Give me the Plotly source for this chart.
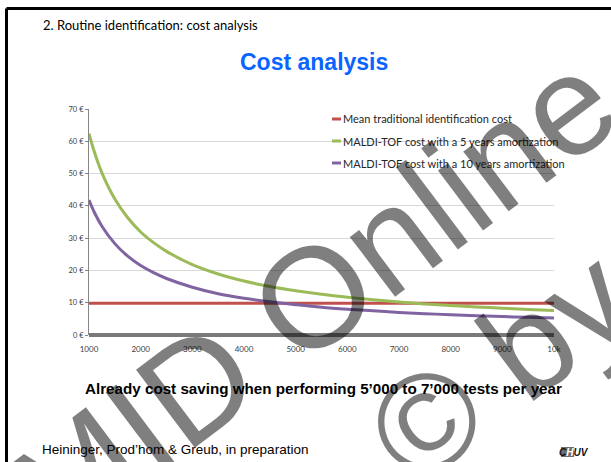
import plotly.graph_objects as go

# Canvas and plot-area geometry (pixels)
W, H = 611, 462
L, R, T, B = 89, 57, 109, 127

# Annual number of identifications
tests = [1000, 1100, 1250, 1500, 1750, 2000, 2250, 2500, 3000, 3500, 4000, 4500,
         5000, 5500, 6000, 6500, 7000, 7500, 8000, 8500, 9000, 9500, 10000]

# Cost per identification (EUR)
traditional = [9.8, 9.8, 9.8, 9.8, 9.8, 9.8, 9.8, 9.8, 9.8, 9.8, 9.8, 9.8,
               9.8, 9.8, 9.8, 9.8, 9.8, 9.8, 9.8, 9.8, 9.8, 9.8, 9.8]
maldi_5y = [62.4, 56.9, 50.2, 42.1, 36.3, 31.9, 28.6, 25.9, 21.8, 18.9, 16.7, 15.0,
            13.7, 12.6, 11.7, 10.9, 10.2, 9.6, 9.1, 8.7, 8.3, 7.9, 7.6]
maldi_10y = [41.8, 38.1, 33.7, 28.3, 24.4, 21.5, 19.3, 17.5, 14.8, 12.8, 11.4, 10.3,
             9.4, 8.6, 8.0, 7.5, 7.0, 6.6, 6.3, 6.0, 5.7, 5.5, 5.3]

series_names = ["Mean traditional identification cost",
                "MALDI-TOF cost with a 5 years amortization",
                "MALDI-TOF cost with a 10 years amortization"]
series_values = [traditional, maldi_5y, maldi_10y]
series_colors = ["#C0504D", "#9BBB59", "#8064A2"]

x_ticks = [1000, 2000, 3000, 4000, 5000, 6000, 7000, 8000, 9000, 10000]
y_ticks = [0, 10, 20, 30, 40, 50, 60, 70]
y_tick_labels = ["0 \u20ac", "10 \u20ac", "20 \u20ac", "30 \u20ac",
                 "40 \u20ac", "50 \u20ac", "60 \u20ac", "70 \u20ac"]

HEADER = "2. Routine identification: cost analysis"
TITLE = "Cost analysis"
CONCLUSION = "Already cost saving when performing 5\u2019000 to 7\u2019000 tests per year"
SOURCE = "Heininger, Prod\u2019hom & Greub, in preparation"

SANS = "Liberation Sans, Arial, sans-serif"
CAL = "Lato, Carlito, sans-serif"


def px(x, y):
    """Pixel position on the canvas -> paper coordinates."""
    return (x - L) / (W - L - R), (H - B - y) / (H - T - B)


fig = go.Figure()
for name, vals, col in zip(series_names, series_values, series_colors):
    fig.add_trace(go.Scatter(
        x=tests, y=vals, name=name, mode="lines",
        line=dict(color=col, width=3, shape="spline", smoothing=1.0),
        showlegend=False, hoverinfo="skip"))

shapes = []
annotations = []

# slide frame (left and top edges)
x0, y0 = px(6.5, 8.5)
x1, y1 = px(640, 480)
shapes.append(dict(type="line", xref="paper", yref="paper", x0=x0, y0=y0, x1=x1, y1=y0,
                   line=dict(color="black", width=3)))
shapes.append(dict(type="line", xref="paper", yref="paper", x0=x0, y0=y0, x1=x0, y1=y1,
                   line=dict(color="black", width=3)))

# legend box (hides the grid behind it)
lx0, ly0 = px(323, 111)
lx1, ly1 = px(556, 181)
shapes.append(dict(type="rect", xref="paper", yref="paper", x0=lx0, y0=ly0, x1=lx1, y1=ly1,
                   fillcolor="white", line=dict(width=0), layer="between"))

legend_rows = [119, 141, 163]
for name, col, ry in zip(series_names, series_colors, legend_rows):
    a, b = px(332, ry)
    c, _ = px(341, ry)
    shapes.append(dict(type="line", xref="paper", yref="paper", x0=a, y0=b, x1=c, y1=b,
                       line=dict(color=col, width=3)))
    annotations.append(dict(xref="paper", yref="paper", x=c, y=b, text=name,
                            showarrow=False, xanchor="left", yanchor="middle",
                            font=dict(family=CAL, size=11, color="#262626")))

# CHUV logo block
gx0, gy0 = px(561, 447)
gx1, gy1 = px(574, 457)
shapes.append(dict(type="rect", xref="paper", yref="paper", x0=gx0, y0=gy0, x1=gx1, y1=gy1,
                   fillcolor="#6f6f6f", line=dict(width=0)))
cx, cy = px(574, 452)
annotations.append(dict(xref="paper", yref="paper", x=cx, y=cy,
                        text="<b><i>C<span style='color:white'>H</span>UV</i></b>",
                        showarrow=False, xanchor="center", yanchor="middle",
                        font=dict(family=SANS, size=10, color="#111111")))

# slide texts
hx, hy = px(41, 25)
annotations.append(dict(xref="paper", yref="paper", x=hx, y=hy, text=HEADER,
                        showarrow=False, xanchor="left", yanchor="middle",
                        font=dict(family=CAL, size=13, color="black")))
tx, ty = px(314, 62)
annotations.append(dict(xref="paper", yref="paper", x=tx, y=ty, text="<b>" + TITLE + "</b>",
                        showarrow=False, xanchor="center", yanchor="middle",
                        font=dict(family=SANS, size=23, color="#0A64FF")))
ax_, ay_ = px(323, 388)
annotations.append(dict(xref="paper", yref="paper", x=ax_, y=ay_, text="<b>" + CONCLUSION + "</b>",
                        showarrow=False, xanchor="center", yanchor="middle",
                        font=dict(family=SANS, size=15.2, color="black")))
sx, sy = px(40, 449)
annotations.append(dict(xref="paper", yref="paper", x=sx, y=sy, text=SOURCE,
                        showarrow=False, xanchor="left", yanchor="middle",
                        font=dict(family=SANS, size=13.5, color="black")))

# diagonal watermark
wx, wy = px(313, 296)
annotations.append(dict(xref="paper", yref="paper", x=wx, y=wy, text="MID Online",
                        showarrow=False, xanchor="center", yanchor="middle", textangle=-37,
                        font=dict(family=SANS, size=142, color="rgba(0,0,0,0.5)")))
wx2, wy2 = px(500, 366)
annotations.append(dict(xref="paper", yref="paper", x=wx2, y=wy2, text="\u00a9 by",
                        showarrow=False, xanchor="center", yanchor="middle", textangle=-37,
                        font=dict(family=SANS, size=138, color="rgba(0,0,0,0.5)")))

fig.update_layout(
    width=W, height=H,
    margin=dict(l=L, r=R, t=T, b=B, pad=0),
    paper_bgcolor="white", plot_bgcolor="white",
    shapes=shapes, annotations=annotations,
    xaxis=dict(range=[1000, 10000], tickvals=x_ticks, showgrid=False, zeroline=False,
               showline=False, ticks="outside", ticklen=6, tickcolor="rgba(0,0,0,0)",
               tickfont=dict(family=CAL, size=8, color="#404040")),
    yaxis=dict(range=[0, 70], tickvals=y_ticks, ticktext=y_tick_labels,
               showgrid=True, gridcolor="#D9D9D9", gridwidth=1,
               showline=True, linecolor="#868686", linewidth=1,
               zeroline=True, zerolinecolor="#7A7A7A", zerolinewidth=4,
               ticks="outside", ticklen=3, tickcolor="#868686",
               tickfont=dict(family=CAL, size=7.5, color="#404040")),
)

fig.write_html("out.html")
